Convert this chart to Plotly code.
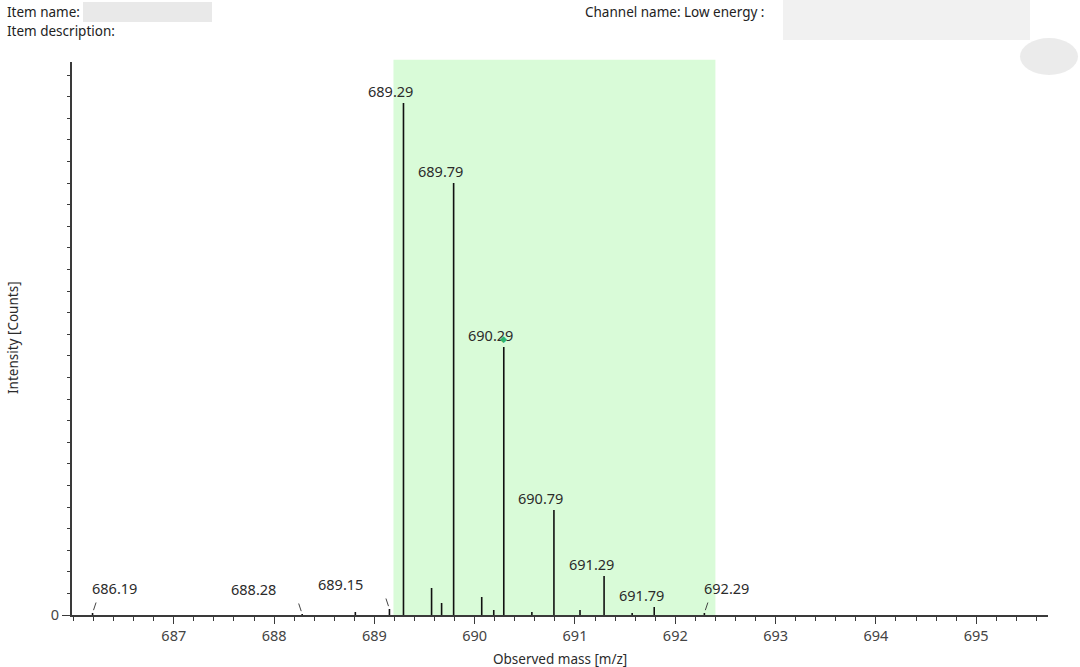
import numpy as np
import plotly.graph_objects as go

# ---------------- data ----------------
mz = [686.19, 688.28, 688.81, 689.15, 689.29, 689.57, 689.67, 689.79, 690.07,
      690.19, 690.29, 690.57, 690.79, 691.05, 691.29, 691.57, 691.79, 692.29]
intensity = [2, 1, 3, 6, 512, 27, 12, 432, 18,
             5, 268, 3, 105, 5, 39, 2, 8, 2]

label_mz = [686.19, 688.28, 689.15, 689.29, 689.79, 690.29, 690.79, 691.29, 691.79, 692.29]
label_text = ["686.19", "688.28", "689.15", "689.29", "689.79", "690.29",
              "690.79", "691.29", "691.79", "692.29"]
leader_mz = [686.19, 688.28, 689.15, 692.29]   # labels drawn with a short leader line

window_mz = [689.19, 692.40]                    # highlighted m/z window
marker_mz = 690.29                              # flagged peak

x_tick_vals = [687, 688, 689, 690, 691, 692, 693, 694, 695]
x_tick_text = ["687", "688", "689", "690", "691", "692", "693", "694", "695"]

# ---------------- geometry ----------------
W, H = 1080, 667
ML, MR, MT, MB = 72, 32, 62, 52
PW, PH = W - ML - MR, H - MT - MB
X_RANGE = [685.985, 695.716]
Y_RANGE = [0, 553]

def px_x(px):
    return (px - ML) / PW

def px_y(py):
    return (H - MB - py) / PH

FONT = "Noto Sans, Open Sans, sans-serif"
TXT = "#2b2b2b"
AX = "#3a3a3a"

# stick spectrum
xs, ys = [], []
for m, i in zip(mz, intensity):
    xs += [m, m, None]
    ys += [0, i, None]

fig = go.Figure()
fig.add_trace(go.Scatter(x=xs, y=ys, mode="lines",
                         line=dict(color="#111111", width=1.6),
                         hoverinfo="skip", showlegend=False))

# highlighted window
fig.add_shape(type="rect", xref="x", yref="paper",
              x0=window_mz[0], x1=window_mz[1], y0=0, y1=1.004,
              fillcolor="#d9fbd8", line=dict(width=0), layer="below")

inten = dict(zip(mz, intensity))
ann = []
for m, t in zip(label_mz, label_text):
    if m in leader_mz:
        right = m in (686.19, 692.29)
        ann.append(dict(x=m, y=inten[m], xref="x", yref="y", text=t,
                        showarrow=False, xanchor="center", yanchor="bottom",
                        xshift=(22 if right else -49), yshift=13,
                        font=dict(family=FONT, size=14.5, color=TXT)))
        ann.append(dict(x=m, y=inten[m], xref="x", yref="y", text="",
                        showarrow=True, arrowhead=0, arrowwidth=1,
                        arrowcolor="#444444", standoff=3,
                        ax=(4 if right else -4), ay=-12))
    else:
        ann.append(dict(x=m, y=inten[m], xref="x", yref="y", text=t,
                        showarrow=False, xanchor="center", yanchor="bottom",
                        xshift=-13, yshift=0,
                        font=dict(family=FONT, size=14.5, color=TXT)))

# flagged-peak marker
ann.append(dict(x=marker_mz, y=inten[marker_mz], xref="x", yref="y", text="◆",
                showarrow=False, xanchor="center", yanchor="middle", yshift=9,
                font=dict(family=FONT, size=9, color="#2fb56c")))

# axis titles
ann.append(dict(x=px_x(560), y=px_y(659), xref="paper", yref="paper",
                text="Observed mass [m/z]", showarrow=False,
                xanchor="center", yanchor="middle",
                font=dict(family=FONT, size=13.5, color=TXT)))
ann.append(dict(x=px_x(13), y=px_y(338), xref="paper", yref="paper",
                text="Intensity [Counts]", showarrow=False, textangle=-90,
                xanchor="center", yanchor="middle",
                font=dict(family=FONT, size=13.5, color=TXT)))

# header texts
for txt, x0, y0 in [("Item name:", 5, 12), ("Item description:", 5, 31),
                    ("Channel name: Low energy :", 583, 12)]:
    ann.append(dict(x=px_x(x0), y=px_y(y0), xref="paper", yref="paper",
                    text=txt, showarrow=False, xanchor="left", yanchor="middle",
                    font=dict(family=FONT, size=13.5, color="#222222")))

# blurred (redacted) header regions
fig.add_shape(type="rect", xref="paper", yref="paper",
              x0=px_x(83), x1=px_x(212), y0=px_y(22), y1=px_y(2),
              fillcolor="#e4e4e4", opacity=0.8, line=dict(width=0), layer="above")
fig.add_shape(type="rect", xref="paper", yref="paper",
              x0=px_x(783), x1=px_x(1030), y0=px_y(40), y1=px_y(0),
              fillcolor="#f0f0f0", opacity=0.9, line=dict(width=0), layer="above")
fig.add_shape(type="circle", xref="paper", yref="paper",
              x0=px_x(1020), x1=px_x(1078), y0=px_y(75), y1=px_y(38),
              fillcolor="#e6e6e6", opacity=0.8, line=dict(width=0), layer="above")

fig.update_layout(
    width=W, height=H,
    margin=dict(l=ML, r=MR, t=MT, b=MB),
    paper_bgcolor="white", plot_bgcolor="white",
    annotations=ann,
    showlegend=False,
    xaxis=dict(range=X_RANGE, showgrid=False, zeroline=False,
               showline=True, linecolor=AX, linewidth=2,
               tickmode="array", tickvals=x_tick_vals, ticktext=x_tick_text,
               ticks="outside", ticklen=7, tickwidth=1, tickcolor=AX,
               tickfont=dict(family=FONT, size=14.5, color="#444444"),
               minor=dict(tickmode="array",
                          tickvals=[round(v, 1) for v in np.arange(686.0, 695.7, 0.2)],
                          ticks="outside", ticklen=4, tickwidth=1, tickcolor=AX)),
    yaxis=dict(range=Y_RANGE, showgrid=False, zeroline=False,
               showline=True, linecolor=AX, linewidth=2,
               tickmode="array", tickvals=[0], ticktext=["0"],
               ticks="outside", ticklen=8, tickwidth=1, tickcolor=AX,
               tickfont=dict(family=FONT, size=14.5, color="#444444"),
               minor=dict(tickmode="array",
                          tickvals=[round(v, 1) for v in np.arange(21.6, 553, 21.6)],
                          ticks="outside", ticklen=3, tickwidth=1, tickcolor=AX)),
)

fig.write_html("out.html",
               config={"displayModeBar": False},
               post_script="document.body.style.margin='0';"
                           "document.body.style.overflow='hidden';")
